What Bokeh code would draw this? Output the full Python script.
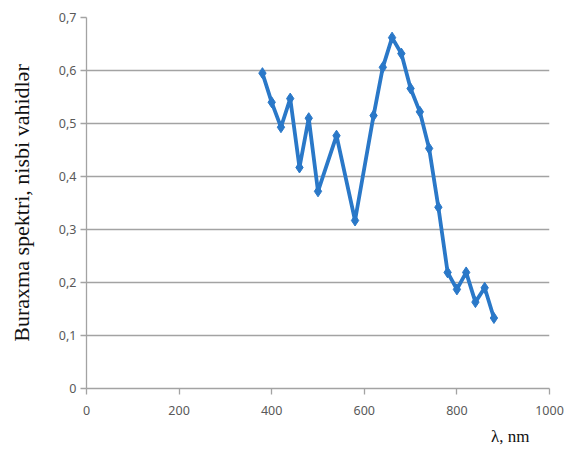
from bokeh.plotting import figure
from bokeh.models import FixedTicker, Range1d, Title
from bokeh.embed import file_html
from bokeh.resources import INLINE

# data
wavelength = [380, 400, 420, 440, 460, 480, 500, 540, 580, 620, 640, 660, 680,
              700, 720, 740, 760, 780, 800, 820, 840, 860, 880]
intensity = [0.595, 0.54, 0.493, 0.547, 0.417, 0.51, 0.372, 0.477, 0.317, 0.515,
             0.606, 0.662, 0.632, 0.566, 0.522, 0.453, 0.342, 0.219, 0.187, 0.219,
             0.163, 0.19, 0.133]

x_ticks = [0, 200, 400, 600, 800, 1000]
x_tick_labels = ["0", "200", "400", "600", "800", "1000"]
y_ticks = [0, 0.1, 0.2, 0.3, 0.4, 0.5, 0.6, 0.7]
y_tick_labels = ["0", "0,1", "0,2", "0,3", "0,4", "0,5", "0,6", "0,7"]

x_title = "λ, nm"
y_title = "Buraxma spektri, nisbi vahidlər"

line_color = "#2a78c8"
grid_color = "#a3a3a3"
tick_color = "#595959"

p = figure(width=569, height=453, output_backend="svg", toolbar_location=None,
           x_range=Range1d(0, 1000), y_range=Range1d(0, 0.7),
           min_border_left=86, min_border_right=20, min_border_top=17,
           min_border_bottom=65)
p.outline_line_color = None
p.background_fill_color = "white"
p.border_fill_color = "white"

p.line(wavelength, intensity, line_color=line_color, line_width=3.8)
p.scatter(wavelength, intensity, marker="diamond", size=11,
          fill_color=line_color, line_color=line_color)

p.xaxis.ticker = FixedTicker(ticks=x_ticks)
p.xaxis.major_label_overrides = dict(zip(x_ticks, x_tick_labels))
p.yaxis.ticker = FixedTicker(ticks=y_ticks)
p.yaxis.major_label_overrides = dict(zip(y_ticks, y_tick_labels))

for ax in (p.xaxis, p.yaxis):
    ax.axis_line_color = grid_color
    ax.axis_line_width = 1.3
    ax.major_tick_line_color = grid_color
    ax.major_tick_line_width = 1.3
    ax.major_tick_in = 0
    ax.major_tick_out = 6
    ax.minor_tick_line_color = None
    ax.major_label_text_font = "Noto Sans"
    ax.major_label_text_font_size = "12.5px"
    ax.major_label_text_color = tick_color

p.xaxis.major_label_standoff = 11
p.yaxis.major_label_standoff = 4

p.yaxis.axis_label = y_title
p.yaxis.axis_label_standoff = 22
p.yaxis.axis_label_text_font = "Liberation Serif"
p.yaxis.axis_label_text_font_size = "22px"
p.yaxis.axis_label_text_font_style = "normal"
p.yaxis.axis_label_text_color = "#111111"

p.xgrid.grid_line_color = None
p.ygrid.grid_line_color = grid_color
p.ygrid.grid_line_width = 1.3

p.add_layout(Title(text=x_title, align="right", offset=20, standoff=14,
                   text_font="Liberation Serif", text_font_size="17px",
                   text_font_style="normal", text_color="#111111"), "below")

open("out.html", "w").write(file_html(p, INLINE))
